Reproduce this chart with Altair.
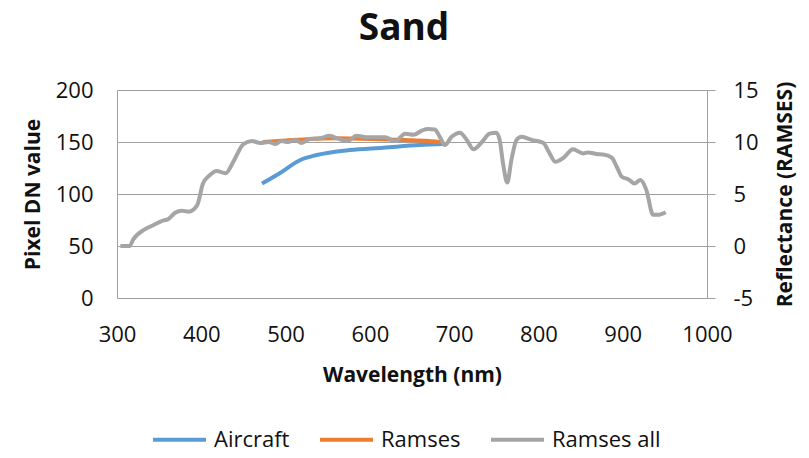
import altair as alt
import pandas as pd

# ---- data ----
chart_title = ["Sand"]
series_names = ["Aircraft", "Ramses", "Ramses all"]
series_colors = ["#5b9bd5", "#ed7d31", "#a5a5a5"]

x_ticks = [300, 400, 500, 600, 700, 800, 900, 1000]
left_ticks = [0, 50, 100, 150, 200]
right_ticks = [-5, 0, 5, 10, 15]

aircraft_wl = [472, 493, 517, 537, 576, 616, 659, 687]
aircraft_dn = [110, 120, 132.5, 137.5, 142.3, 144.5, 147, 148]

ramses_wl = [473, 500, 530, 560, 600, 640, 670, 688]
ramses_refl = [10.0, 10.15, 10.3, 10.35, 10.3, 10.2, 10.1, 9.95]

all_wl = [304, 315, 319, 333, 343, 353, 361, 369, 377, 385,
          395, 402, 410, 418, 429, 438, 450, 460, 470, 480,
          488, 495, 503, 511, 519, 529, 541, 552, 563, 574,
          584, 596, 608, 618, 630, 642, 652, 663, 669, 677,
          683, 689, 697, 707, 715, 723, 733, 742, 750, 754,
          758, 763, 768, 774, 780, 792, 806, 812, 820, 830,
          841, 853, 859, 869, 877, 887, 893, 899, 907, 914,
          921, 928, 936, 942, 951]
all_refl = [0, 0, 0.6, 1.6, 2.0, 2.4, 2.6, 3.2, 3.4, 3.3,
            3.9, 6.0, 6.8, 7.2, 7.0, 8.1, 9.8, 10.1, 9.9, 10.0,
            9.8, 10.1, 10.0, 10.2, 9.9, 10.3, 10.35, 10.6, 10.3, 10.1,
            10.6, 10.45, 10.45, 10.45, 10.1, 10.8, 10.7, 11.15, 11.25, 11.2,
            10.5, 9.7, 10.5, 10.9, 10.2, 9.3, 10.0, 10.8, 10.9, 10.2,
            7.95, 6.1, 8.3, 10.2, 10.5, 10.2, 9.9, 9.1, 8.1, 8.5,
            9.3, 8.9, 9.0, 8.85, 8.8, 8.5, 7.6, 6.66, 6.4, 6.0,
            6.35, 5.4, 3.0, 3.0, 3.25]

df_air = pd.DataFrame({"wl": aircraft_wl, "dn": aircraft_dn, "series": "Aircraft"})
df_right = pd.concat([
    pd.DataFrame({"wl": ramses_wl, "refl": ramses_refl, "series": "Ramses", "ord": 1}),
    pd.DataFrame({"wl": all_wl, "refl": all_refl, "series": "Ramses all", "ord": 2}),
], ignore_index=True)
df_title = pd.DataFrame({"t": chart_title})

FONT = "Open Sans"
GRID = "#a0a0a0"
TXT = "#111111"
PLAIN = "'' + datum.value"

color = alt.Color(
    "series:N",
    scale=alt.Scale(domain=series_names, range=series_colors),
    legend=alt.Legend(
        title=None, orient="none", legendX=34, legendY=321,
        direction="horizontal", symbolType="stroke", symbolSize=2809,
        symbolStrokeWidth=4, labelFontSize=22, labelFont=FONT, labelColor=TXT,
        columnPadding=22, labelOffset=6, padding=0,
    ),
)

x = alt.X(
    "wl:Q",
    scale=alt.Scale(domain=[300, 1000], nice=False, zero=False),
    axis=alt.Axis(
        values=x_ticks, title="Wavelength (nm)", grid=False, ticks=False,
        labelPadding=26, labelFlush=False, labelOverlap=False, labelExpr=PLAIN,
        titleY=77, titleBaseline="middle",
    ),
)

left = alt.Chart(df_air).mark_line(strokeWidth=4, interpolate="monotone").encode(
    x=x,
    y=alt.Y(
        "dn:Q",
        scale=alt.Scale(domain=[0, 200], nice=False),
        axis=alt.Axis(
            values=left_ticks, title="Pixel DN value", grid=True, ticks=False,
            labelPadding=24, labelExpr=PLAIN,
            titleX=-84, titleY=104, titleBaseline="middle",
        ),
    ),
    color=color,
)

right = alt.Chart(df_right).mark_line(strokeWidth=4, interpolate="monotone").encode(
    x=x,
    y=alt.Y(
        "refl:Q",
        scale=alt.Scale(domain=[-5, 15], nice=False, zero=False),
        axis=alt.Axis(
            values=right_ticks, title="Reflectance (RAMSES)", orient="right",
            grid=False, ticks=True, tickSize=8, labelPadding=18, labelExpr=PLAIN,
            titleX=78, titleY=104, titleAngle=270, titleBaseline="middle",
        ),
    ),
    color=color,
    order=alt.Order("ord:Q"),
)

title_mark = alt.Chart(df_title).mark_text(
    font=FONT, fontSize=37, fontWeight="bold", color=TXT,
    align="center", baseline="alphabetic",
).encode(text="t:N", x=alt.value(287), y=alt.value(-50))

chart = (
    alt.layer(left, right, title_mark)
    .resolve_scale(y="independent")
    .properties(
        width=590,
        height=208,
        autosize=alt.AutoSizeParams(type="none"),
        padding={"left": 109, "top": 82, "right": 92, "bottom": 150},
    )
    .configure_view(stroke=None)
    .configure_axis(
        labelFont=FONT, labelFontSize=22, labelColor=TXT,
        titleFont=FONT, titleFontSize=21, titleFontWeight="bold", titleColor=TXT,
        domainColor=GRID, gridColor=GRID, tickColor=GRID,
        domainWidth=1, gridWidth=1, tickWidth=1,
    )
)

chart.save("out.html", embed_options={"renderer": "svg", "actions": False})
